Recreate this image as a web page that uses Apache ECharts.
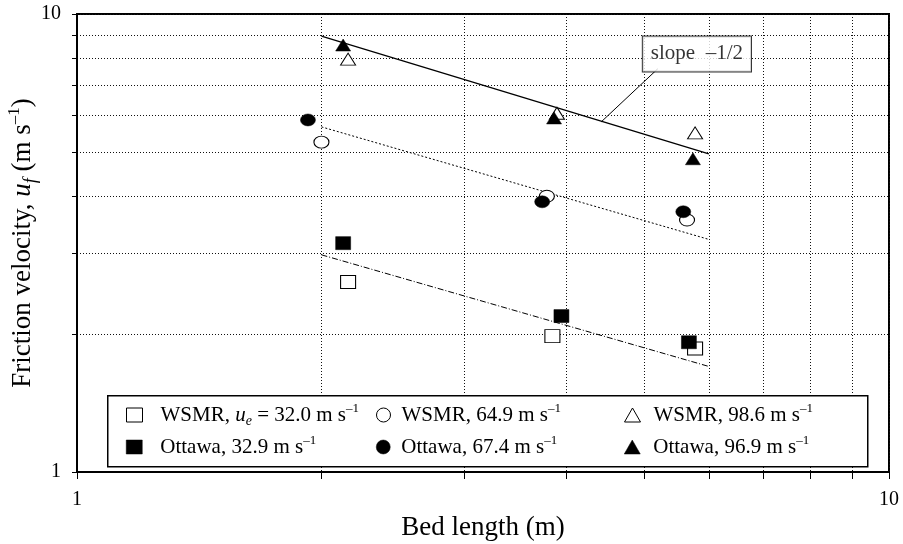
<!DOCTYPE html>
<html><head><meta charset="utf-8">
<script src="https://cdn.jsdelivr.net/npm/echarts@6/dist/echarts.min.js"></script>
<style>html,body{margin:0;padding:0;background:#fff}#c{width:903px;height:544px}</style>
</head><body><div id="c"></div>
<script>
// ---- data ----
const tickValues = [1, 2, 3, 4, 5, 6, 7, 8, 9, 10];
const labelValues = [1, 10];
const wsmr32 = [[2.157, 2.60], [3.85, 1.98], [5.77, 1.86]];
const ottawa33 = [[2.127, 3.16], [3.95, 2.19], [5.67, 1.92]];
const wsmr65 = [[2.00, 5.25], [3.79, 4.00], [5.64, 3.55]];
const ottawa67 = [[1.925, 5.87], [3.74, 3.89], [5.58, 3.70]];
const wsmr99 = [[2.157, 7.97], [3.90, 6.07], [5.77, 5.50]];
const ottawa97 = [[2.127, 8.556], [3.868, 5.93], [5.735, 4.83]];
const trendHigh = [[2, 8.95], [6, 4.95]];
const trendMid = [[2, 5.67], [6, 3.22]];
const trendLow = [[2, 2.98], [6, 1.70]];
const leader = [[5.19, 7.59], [4.42, 5.81]];
const slopeNote = [[5.80, 8.18]];

const F = 'Liberation Serif';
function richSet(size) {
  return {
    n: {fontFamily: F, fontSize: size, color: '#000', lineHeight: Math.round(size * 1.25)},
    i: {fontFamily: F, fontSize: size, fontStyle: 'italic', color: '#000', lineHeight: Math.round(size * 1.25)},
    sub: {fontFamily: F, fontSize: Math.round(size * 0.66), fontStyle: 'italic', color: '#000', verticalAlign: 'bottom', lineHeight: Math.round(size * 0.66)},
    sup: {fontFamily: F, fontSize: Math.round(size * 0.62), color: '#000', verticalAlign: 'top', lineHeight: Math.round(size * 0.58)}
  };
}
const legendRich = richSet(21);
legendRich.g1 = {fontFamily: F, fontSize: 21, color: '#000', padding: [0, 0, 0, 13], lineHeight: 26};
legendRich.g2 = {fontFamily: F, fontSize: 21, color: '#000', padding: [0, 0, 0, 5], lineHeight: 26};
legendRich.g3 = {fontFamily: F, fontSize: 21, color: '#000', padding: [0, 0, 0, 8], lineHeight: 26};

const legendItems = [
  {name: 'WSMR 32.0', icon: 'rect', open: true, left: 126, top: 402, text: '{g1|WSMR, }{i|u}{sub|e}{n| = 32.0 m s}{sup|–1}'},
  {name: 'WSMR 64.9', icon: 'circle', open: true, left: 376, top: 402, text: '{g2|WSMR, 64.9 m s}{sup|–1}'},
  {name: 'WSMR 98.6', icon: 'triangle', open: true, left: 624, top: 402, text: '{g3|WSMR, 98.6 m s}{sup|–1}'},
  {name: 'Ottawa 32.9', icon: 'rect', open: false, left: 126, top: 434, text: '{g1|Ottawa, 32.9 m s}{sup|–1}'},
  {name: 'Ottawa 67.4', icon: 'circle', open: false, left: 376, top: 434, text: '{g2|Ottawa, 67.4 m s}{sup|–1}'},
  {name: 'Ottawa 96.9', icon: 'triangle', open: false, left: 624, top: 434, text: '{g3|Ottawa, 96.9 m s}{sup|–1}'}
];

function styleFor(open) {
  return open ? {color: '#fff', borderColor: '#000', borderWidth: 1, opacity: 1}
              : {color: '#000', borderColor: '#000', borderWidth: 0.5, opacity: 1};
}
function markerSeries(name, data, symbol, size, open) {
  return {
    name: name, type: 'scatter', data: data, symbol: symbol, symbolSize: size,
    itemStyle: styleFor(open), emphasis: {disabled: true},
    z: open ? 3 : 4
  };
}
function lineSeries(data, type, width) {
  return {type: 'line', data: data, symbol: 'none', silent: true,
    lineStyle: {color: '#000', width: width, type: type, opacity: 1}, z: 2};
}

const axisCommon = {
  type: 'log', logBase: 10, min: 1, max: 10,
  axisLine: {show: true, lineStyle: {color: '#000', width: 2}},
  axisTick: {show: true, customValues: tickValues, lineStyle: {color: '#000', width: 1}},
  axisLabel: {customValues: labelValues, fontFamily: F, color: '#000', fontSize: 20},
  splitLine: {show: true, lineStyle: {color: '#111', width: 1, type: [1, 2]}},
  minorTick: {show: false}, minorSplitLine: {show: false}
};

const option = {
  animation: false,
  backgroundColor: '#fff',
  grid: {left: 77, right: 14, top: 14, bottom: 72, containLabel: false, outerBoundsMode: 'none',
    show: true, borderColor: '#000', borderWidth: 2, backgroundColor: 'transparent'},
  xAxis: Object.assign({}, axisCommon, {
    axisTick: Object.assign({}, axisCommon.axisTick, {length: 7}),
    axisLabel: Object.assign({}, axisCommon.axisLabel, {margin: 18}),
    name: 'Bed length (m)', nameLocation: 'middle', nameGap: 39,
    nameTextStyle: {fontFamily: F, fontSize: 27, color: '#000'}
  }),
  yAxis: Object.assign({}, axisCommon, {
    axisTick: Object.assign({}, axisCommon.axisTick, {length: 5}),
    axisLabel: Object.assign({}, axisCommon.axisLabel, {margin: 16, fontSize: 20}),
    name: '{n|Friction velocity, }{i|u}{sub|f}{n| (m s}{sup|–1}{n|)}',
    nameLocation: 'middle', nameGap: 37, nameMoveOverlap: false,
    nameTextStyle: {fontFamily: F, fontSize: 27, color: '#000', rich: richSet(27)}
  }),
  legend: legendItems.map(function (it) {
    return {
      left: it.left, top: it.top, padding: 0, itemWidth: 16, itemHeight: 14, selectedMode: false, z: 10,
      data: [{name: it.name, icon: it.icon, itemStyle: styleFor(it.open)}],
      formatter: function () { return it.text; },
      textStyle: {fontFamily: F, fontSize: 21, color: '#000', rich: legendRich}
    };
  }),
  graphic: [{type: 'rect', left: 107, top: 395, z: 5,
    shape: {width: 760, height: 71}, style: {fill: '#fff', stroke: '#000', lineWidth: 1.5}}],
  series: [
    lineSeries(trendHigh, 'solid', 1.3),
    lineSeries(trendMid, [2, 2], 1),
    lineSeries(trendLow, [6, 2, 1, 2], 1),
    lineSeries(leader, 'solid', 1),
    markerSeries('WSMR 32.0', wsmr32, 'rect', [15, 13], true),
    markerSeries('WSMR 64.9', wsmr65, 'circle', [15, 12], true),
    markerSeries('WSMR 98.6', wsmr99, 'triangle', [15, 12], true),
    markerSeries('Ottawa 32.9', ottawa33, 'rect', [15, 13], false),
    markerSeries('Ottawa 67.4', ottawa67, 'circle', [15, 12], false),
    markerSeries('Ottawa 96.9', ottawa97, 'triangle', [15, 12], false),
    {type: 'scatter', data: slopeNote, symbolSize: 0, silent: true, z: 6,
      label: {show: true, position: 'inside', formatter: 'slope  –1/2', fontFamily: F, fontSize: 21, color: '#000',
        backgroundColor: '#fff', borderColor: '#000', borderWidth: 1, padding: [5, 8, 4, 8], lineHeight: 26}}
  ]
};
const chart = echarts.init(document.getElementById('c'), null, {renderer: 'canvas'});
chart.setOption(option);
</script></body></html>
